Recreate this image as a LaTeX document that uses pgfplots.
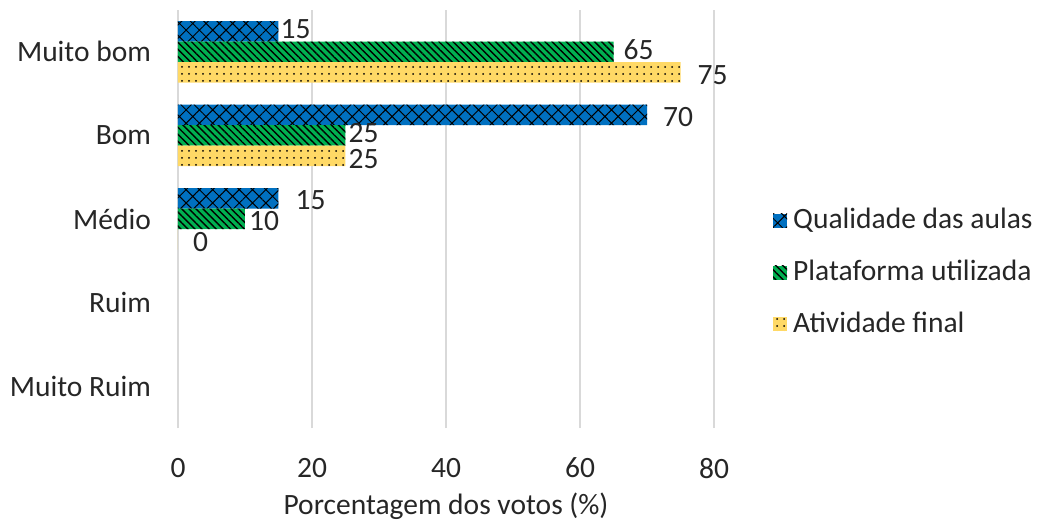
\documentclass[border=0pt]{standalone}
\usepackage{pgfplots}
\pgfplotsset{compat=1.18}
\usepackage{pgfplotstable}
\usetikzlibrary{patterns.meta}
\usepackage{fontspec}
\setmainfont{Carlito}
\definecolor{qblue}{HTML}{0070C0}
\definecolor{pgreen}{HTML}{00B050}
\definecolor{ayellow}{HTML}{FFD966}
\definecolor{txt}{HTML}{262626}

% y: 4=Muito bom, 3=Bom, 2=Medio, 1=Ruim, 0=Muito Ruim ; dx/dy = label offsets (pt)
\pgfplotstableread{
x  y  dx  dy
15 4  2   2
70 3  16  -2
15 2  17  -2
}\qualidade
\pgfplotstableread{
x  y  dx  dy
65 4  10  2
25 3  3   2
10 2  4   -2
}\plataforma
\pgfplotstableread{
x  y  dx  dy
75 4  17  -3
25 3  3   -3
0  2  15  -3
}\atividade

\begin{document}
\fontsize{29.5}{35}\selectfont
\begin{tikzpicture}
\path[use as bounding box] (-178pt,-94pt) rectangle (863pt,428pt);
\begin{axis}[
  xbar, scale only axis, width=536pt, height=418pt,
  at={(0pt,0pt)}, anchor=south west,
  xmin=0, xmax=80, ymin=-0.5, ymax=4.5,
  xtick={0,20,40,60,80}, ytick={0,1,2,3,4},
  yticklabels={Muito Ruim, Ruim, Médio, Bom, Muito bom},
  /pgf/number format/assume math mode=true,
  axis line style={draw=none}, major tick length=0pt,
  xmajorgrids, ymajorgrids=false, grid style={draw=black!15, line width=1.2pt},
  tick label style={font=\fontsize{29.5}{35}\selectfont, text=txt},
  xticklabel style={anchor=north, yshift=-20pt},
  yticklabel style={anchor=east, xshift=-17pt},
  xlabel={Porcentagem dos votos (\%)},
  xlabel style={font=\fontsize{29.5}{35}\selectfont, text=txt, yshift=5pt},
  bar width=20.5pt,
  nodes near coords,
  point meta=explicit symbolic,
  visualization depends on={\thisrow{dx} \as \dx},
  visualization depends on={\thisrow{dy} \as \dy},
  every node near coord/.append style={font=\fontsize{29.5}{35}\selectfont, text=txt, anchor=west, inner sep=0pt, xshift=\dx pt, yshift=\dy pt},
  legend style={at={(rel axis cs:1.110,0.372)}, anchor=west, draw=none, fill=none,
    font=\fontsize{29.5}{35}\selectfont, text=txt, row sep=25pt, column sep=5pt, inner sep=0pt,
    nodes={inner sep=1pt}},
  legend cell align=left,
  mylegend/.style={legend image code/.code={\draw[##1,draw=none] (0pt,-7pt) rectangle (14pt,7pt);}},
]
\addplot[fill=qblue, draw=none, bar shift=20.5pt, mylegend,
  postaction={pattern={Hatch[angle=45,distance=9.4pt,line width=1pt]}, pattern color=black}]
  table[x=x, y=y, meta=x] {\qualidade};
\addlegendentry{Qualidade das aulas}
\addplot[fill=pgreen, draw=none, bar shift=0pt, mylegend,
  postaction={pattern={Lines[angle=-45,distance=5pt,line width=1.4pt]}, pattern color=black}]
  table[x=x, y=y, meta=x] {\plataforma};
\addlegendentry{Plataforma utilizada}
\addplot[fill=ayellow, draw=none, bar shift=-20.5pt, mylegend,
  postaction={pattern={Dots[distance=7pt,radius=1pt]}, pattern color=black}]
  table[x=x, y=y, meta=x] {\atividade};
\addlegendentry{Atividade final}
\end{axis}
\end{tikzpicture}
\end{document}
